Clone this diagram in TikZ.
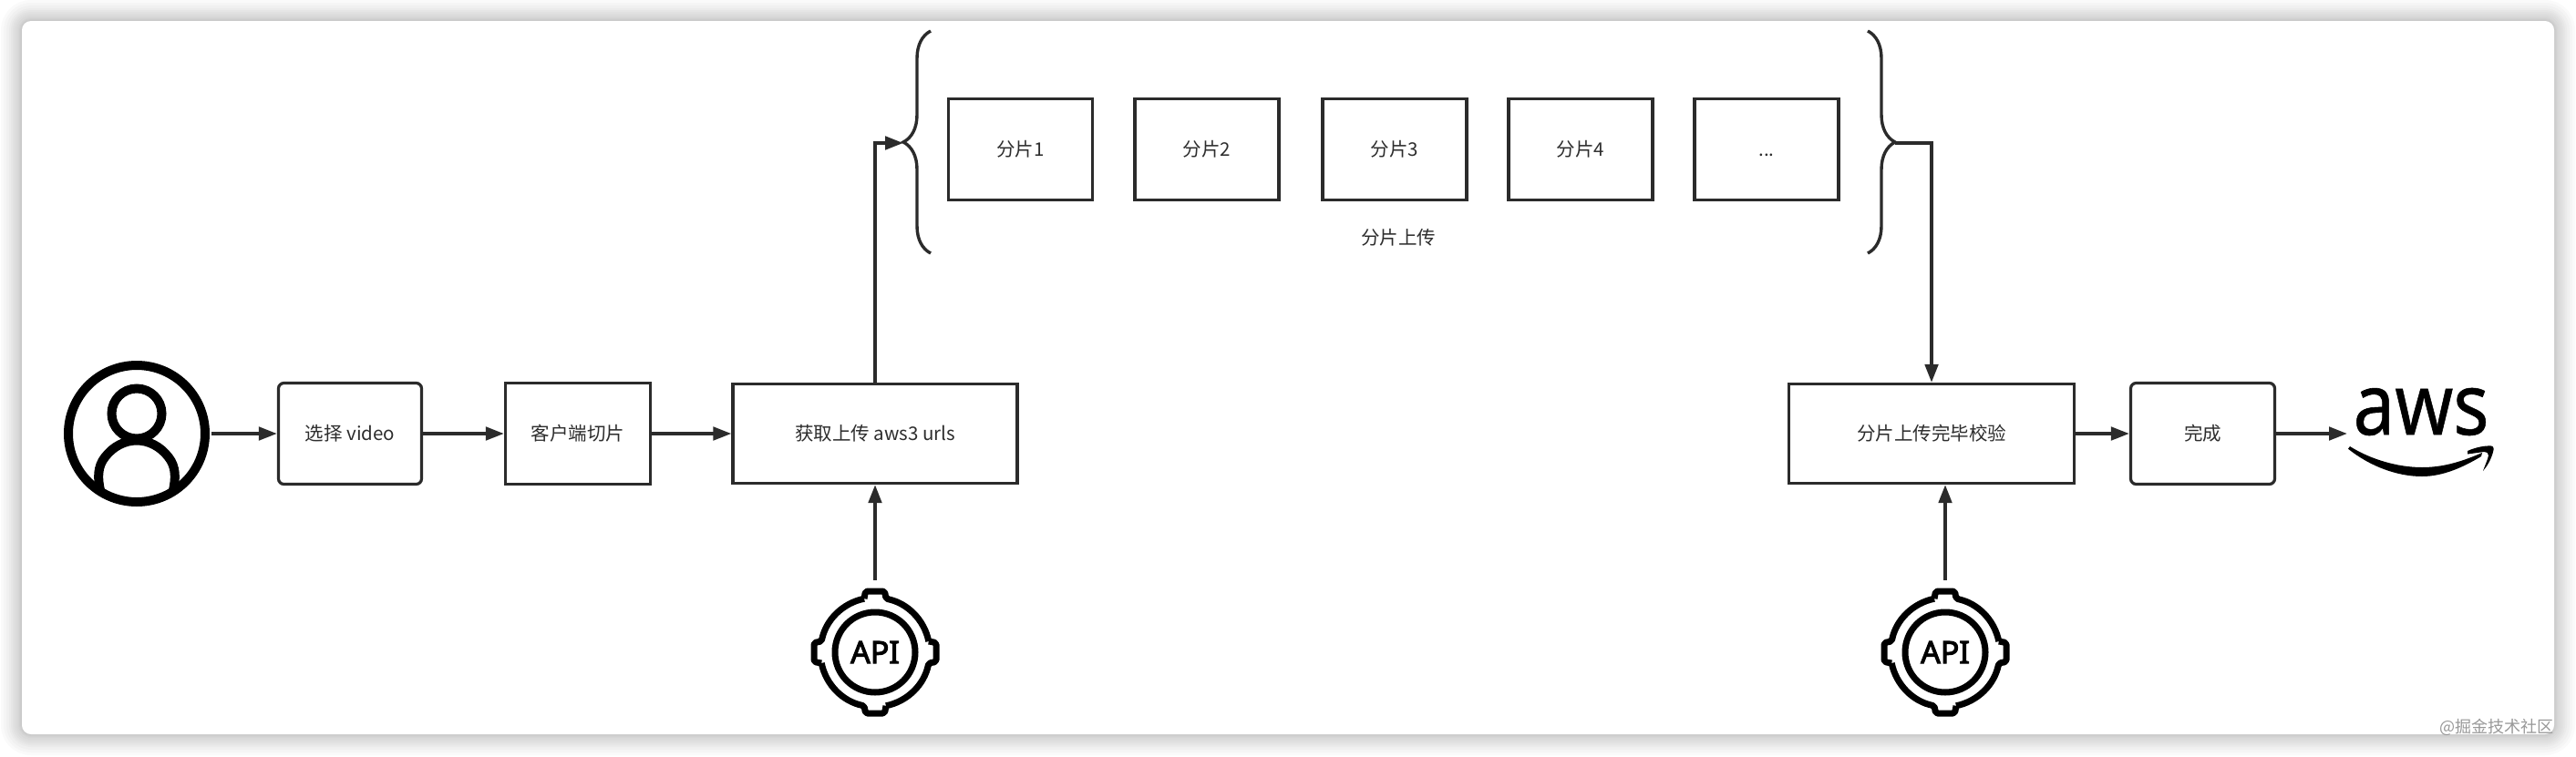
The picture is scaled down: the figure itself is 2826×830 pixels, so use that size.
\documentclass[tikz,border=0pt]{standalone}
\usepackage{fontspec}
\setmainfont{Noto Sans CJK SC}
\newfontfamily\logofont[FakeBold=0.6]{Noto Sans}
\newfontfamily\apifont[FakeBold=3]{Noto Sans}
\usepackage{xcolor}
\definecolor{ink}{RGB}{43,43,43}
\definecolor{label}{RGB}{45,45,45}
\usetikzlibrary{arrows.meta,decorations.pathreplacing}
\newcommand{\px}{0.03cm}
\tikzstyle{box} = [
    rectangle, text centered,
    draw=ink,
    line width=3.2*\px,
    text=label,
    text height=15pt,
    text depth=2pt,
    inner sep=0pt,
    font=\fontsize{17.5}{20}\selectfont,
]
\tikzstyle{part} = [
    box,
    minimum width=158*\px,
    minimum height=111*\px,
]
\tikzstyle{rbox} = [
    box,
    rounded corners=6*\px,
]
\tikzstyle{caption} = [
    text=label,
    inner sep=0pt,
    font=\fontsize{17.5}{20}\selectfont,
]
\tikzstyle{arrow} = [
    draw=ink,
    line width=3.8*\px,
    -{Triangle[length=0.6cm,width=0.43cm]},
]
\tikzstyle{bracket} = [
    draw=ink,
    line width=3.4*\px,
    decorate,
    decoration={brace,amplitude=30*\px},
]
\tikzstyle{icon} = [
    draw=black,
    line width=7*\px,
]
\tikzstyle{apinode} = [
    circle,
    inner sep=0pt,
    minimum size=158*\px,
    font=\apifont\fontsize{29}{30}\selectfont,
]
% ring and four teeth round an api node
\newcommand{\apiring}[1]{%
    \begin{scope}[shift={(#1.center)},y=\px,x=\px]
        \draw [icon] (0,0) circle [radius=44*\px];
        \foreach \a in {0,90,180,270} {
            \draw [icon,rotate=\a,line join=round,rounded corners=2*\px]
            (11.5:60) arc [start angle=11.5,end angle=78.5,radius=60*\px]
            -- (10.5,67) -- (-10.5,67) -- (-12,58.8);
        }
    \end{scope}
}

\begin{document}
\begin{tikzpicture}[x=\px,y=-\px]
    \useasboundingbox (0,0) rectangle (2826,830);

    % card and its shadow
    \foreach \s in {1,2,3,4,6,8,10,12,14,17,20,23} {
        \fill [black,opacity=0.018,rounded corners=(10+\s)*\px]
        (24-\s,23-\s) rectangle (2802+\s,806+\s);
    }
    \node (card) [fill=white,rounded corners=10*\px,inner sep=0pt,
        minimum width=2778*\px,minimum height=783*\px] at (1413,414.5) {};

    % user icon
    \node (user) at (150,476) [circle,draw=black,line width=10*\px,inner sep=0pt,outer sep=7*\px,minimum size=150*\px] {};
    \draw [black,line width=10*\px] (150,454) circle [radius=27.5*\px];
    \draw [black,line width=10*\px] (110,538) .. controls (107,525) and (107,512) .. (115,502)
    .. controls (124,490) and (137,483.5) .. (150,483.5)
    .. controls (163,483.5) and (176,490) .. (185,502)
    .. controls (193,512) and (193,525) .. (190,538);

    % main row
    \node (pick) at (384,476) [rbox,minimum width=157*\px,minimum height=111*\px] {选择 video};
    \node (slice) at (634,476) [box,minimum width=159*\px,minimum height=111*\px] {客户端切片};
    \node (geturl) at (960,476) [box,minimum width=312*\px,minimum height=109*\px] {获取上传 aws3 urls};
    \node (verify) at (2119,476) [box,minimum width=313*\px,minimum height=109*\px] {分片上传完毕校验};
    \node (done) at (2416.5,476) [rbox,minimum width=158*\px,minimum height=111*\px] {完成};

    % parts
    \foreach \x [count=\i] in {1119.5,1324,1530,1734} {
        \node (part\i) at (\x,164) [part] {分片\i};
    }
    \node (part5) at (1938,164) [part] {...};
    \node (uploadlabel) at (1534,261) [caption] {分片上传};

    % braces
    \coordinate (leftbrace) at (991,157);
    \coordinate (rightbrace) at (2079,157);
    \draw [bracket] (1021,278) -- (1021,34);
    \draw [bracket] (2049,34) -- (2049,278);

    % api icons
    \node (apia) at (960,716) [apinode] {API};
    \node (apib) at (2134,716) [apinode] {API};
    \apiring{apia}
    \apiring{apib}

    % aws logo
    \node (aws) at (2656,452) [inner sep=0pt,font=\logofont\fontsize{80}{90}\selectfont] {\scalebox{.87}[1]{aws}};
    \coordinate (awsin) at (2575,476);
    \fill [black] (2576,492.7) .. controls (2600,512) and (2630,523) .. (2657,523)
    .. controls (2680,523) and (2702,513) .. (2722,501)
    -- (2723,497) .. controls (2700,507) and (2680,513) .. (2657,513)
    .. controls (2630,513) and (2600,504) .. (2578,490) -- cycle;
    \fill [black] (2707,495) .. controls (2716,491) and (2726,489) .. (2733,489.5)
    .. controls (2736,490) and (2736,493) .. (2735,496)
    .. controls (2733,504) and (2729,511) .. (2724,517)
    .. controls (2726,511) and (2729,505) .. (2730,500)
    .. controls (2730,497) and (2728,496) .. (2725,496)
    -- (2707,498.5) -- cycle;

    % arrows
    \draw [arrow] (user.east) -- (pick.west);
    \draw [arrow] (pick.east) -- (slice.west);
    \draw [arrow] (slice.east) -- (geturl.west);
    \draw [arrow] (verify.east) -- (done.west);
    \draw [arrow] (done.east) -- (awsin);
    \draw [arrow] (apia.north) -- (geturl.south);
    \draw [arrow] (apib.north) -- (apib.north |- verify.south);
    \draw [arrow] (geturl.north) |- (leftbrace);
    \draw [arrow] (rightbrace) -| (verify.north);

    % watermark
    \node (mark) at (2802,798) [anchor=east,inner sep=0pt,text=black!40,font=\fontsize{15.4}{18}\selectfont] {@掘金技术社区};
\end{tikzpicture}
\end{document}
